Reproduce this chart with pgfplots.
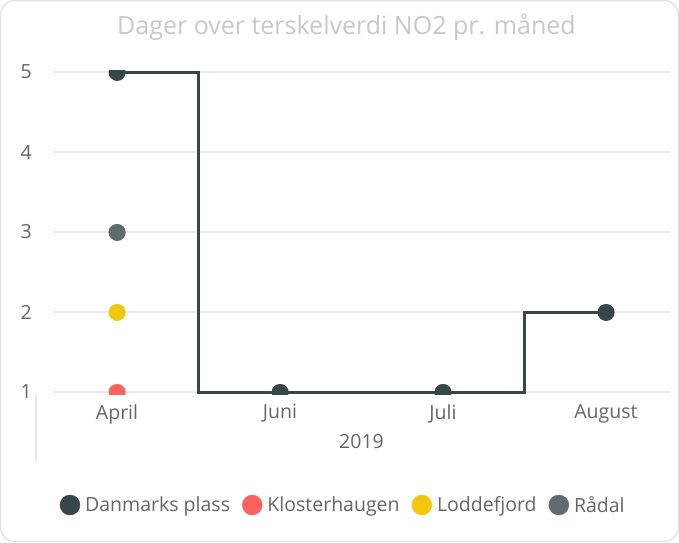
\documentclass[border=0pt]{standalone}
\usepackage{fontspec}
\setmainfont{Open Sans}
\usepackage{pgfplots}
\pgfplotsset{compat=1.18}

\definecolor{danmark}{HTML}{374649}
\definecolor{kloster}{HTML}{FD625E}
\definecolor{lodde}{HTML}{F2C80F}
\definecolor{radal}{HTML}{5F6B6D}
\definecolor{ticktext}{HTML}{666666}
\definecolor{titlegray}{HTML}{C8C8C8}
\definecolor{gridgray}{HTML}{EAEAEA}
\definecolor{cardline}{HTML}{E0E0E0}

% dots as round-capped stubs so that the axis clips them like the reference
\pgfplotsset{dot/.style={forget plot, line width=17pt, line cap=round,
                         unbounded coords=jump, mark=none}}

\begin{document}
\begin{tikzpicture}
% card
\draw[draw=cardline, line width=1.2pt, fill=white, rounded corners=14pt]
  (0.6pt,0.6pt) rectangle (678.4pt,541.4pt);
\node[anchor=base, text=titlegray, font=\fontsize{25}{30}\selectfont, inner sep=0pt]
  at (346.5pt,507pt) {Dager over terskelverdi NO2 pr. måned};
\draw[gridgray, line width=1.5pt] (36pt,148pt) -- (36pt,80pt);

\begin{axis}[
    at={(53pt,148pt)}, anchor=south west,
    scale only axis,
    width=617pt, height=324pt,
    xmin=-0.393, xmax=3.393,
    ymin=0.975, ymax=5.025,
    xtick={0,1,2,3},
    xticklabels={April,Juni,Juli,August},
    ytick={1,2,3,4,5},
    axis line style={draw=none},
    major tick length=0pt,
    ymajorgrids=true,
    grid style={gridgray, line width=1.5pt},
    /pgf/number format/assume math mode=true,
    tick label style={text=ticktext, font=\fontsize{19.5}{23}\selectfont},
    yticklabel style={anchor=east, inner sep=0pt, xshift=-21pt},
    xticklabel style={anchor=north, inner sep=0pt, yshift=-10pt},
    xlabel={2019},
    xlabel style={at={(axis description cs:0.5,0)}, anchor=north, inner sep=0pt,
                  yshift=-40pt, text=ticktext, font=\fontsize{19.5}{23}\selectfont},
    legend columns=4,
    legend style={at={(axis description cs:0.011,-0.3426)}, anchor=west,
                  draw=none, fill=none, inner sep=0pt, outer sep=0pt,
                  text=ticktext, font=\fontsize{19.5}{23}\selectfont,
                  nodes={inner sep=0pt},
                  /tikz/every odd column/.append style={column sep=5pt},
                  /tikz/every even column/.append style={column sep=12pt}},
    legend cell align=left,
]
\addlegendimage{legend image code/.code={\fill[danmark] (0pt,0pt) circle (10pt);}}
\addlegendimage{legend image code/.code={\fill[kloster] (0pt,0pt) circle (10pt);}}
\addlegendimage{legend image code/.code={\fill[lodde] (0pt,0pt) circle (10pt);}}
\addlegendimage{legend image code/.code={\fill[radal] (0pt,0pt) circle (10pt);}}

% Danmarks plass
\addplot[forget plot, danmark, line width=3pt, const plot mark mid, mark=none]
  coordinates {(0,5) (1,1) (2,1) (3,2)};
\addplot[dot, danmark]
  coordinates {(0,5) (0.001,5) (0.5,nan) (1,1) (1.001,1) (1.5,nan)
               (2,1) (2.001,1) (2.5,nan) (3,2) (3.001,2)};
% Klosterhaugen
\addplot[dot, kloster] coordinates {(0,1) (0.001,1)};
% Loddefjord
\addplot[dot, lodde] coordinates {(0,2) (0.001,2)};
% Rådal
\addplot[dot, radal] coordinates {(0,3) (0.001,3)};

\legend{Danmarks plass, Klosterhaugen, Loddefjord, Rådal}
\end{axis}
\end{tikzpicture}
\end{document}
